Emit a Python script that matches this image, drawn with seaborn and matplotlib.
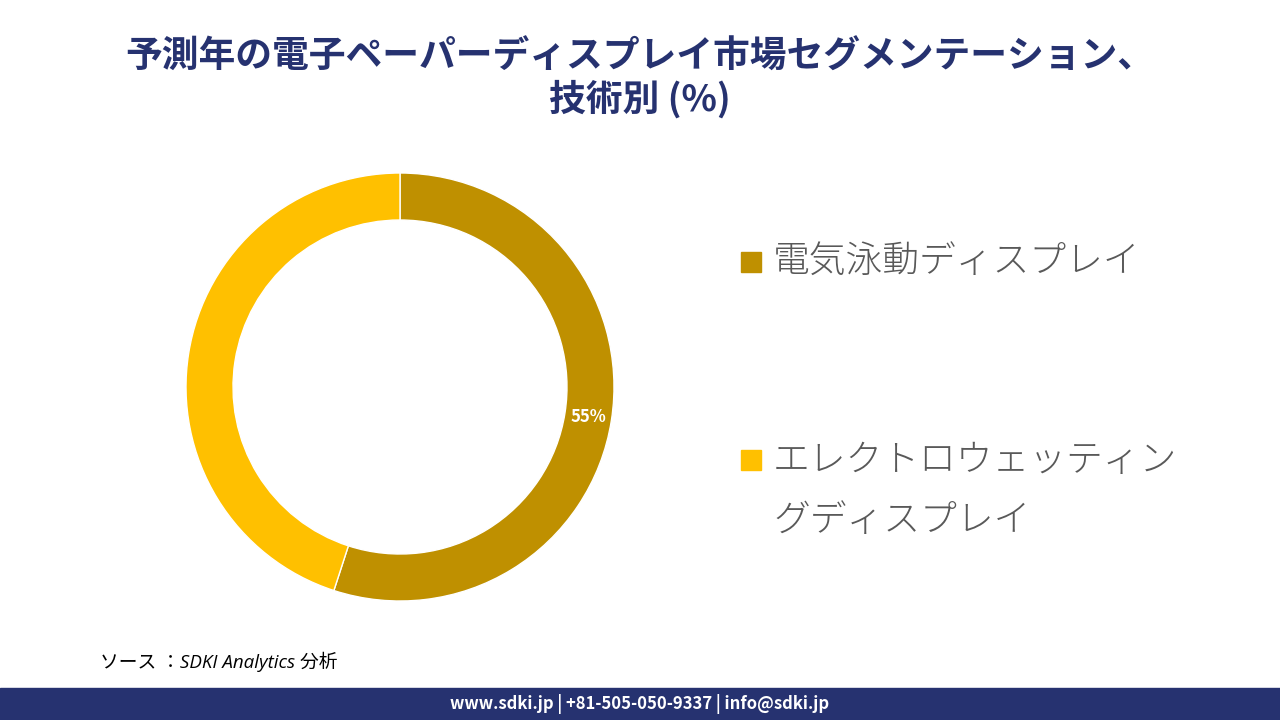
import matplotlib
matplotlib.use("Agg")
import matplotlib.pyplot as plt
import seaborn as sns
from matplotlib.patches import Rectangle

categories = ["電気泳動ディスプレイ", "エレクトロウェッティン\nグディスプレイ"]
shares = [55, 45]
colors = ["#BF9000", "#FFC000"]
title = "予測年の電子ペーパーディスプレイ市場セグメンテーション、\n技術別 (%)"
footer = "www.sdki.jp | +81-505-050-9337 | info@sdki.jp"

sns.set_theme(style="white")
plt.rcParams["font.family"] = ["Noto Sans CJK JP", "DejaVu Sans"]

fig = plt.figure(figsize=(12.8, 7.2), dpi=100)
W, H = 1280, 720

# donut
cx, cy, r = 400, 387, 214
ax = fig.add_axes([(cx - r) / W, (H - cy - r) / H, 2 * r / W, 2 * r / H])
wedges, texts, autotexts = ax.pie(
    shares, colors=colors, startangle=90, counterclock=False,
    radius=1.0, wedgeprops=dict(width=47 / r, edgecolor="white", linewidth=1),
    autopct=lambda p: f"{p:.0f}%" if p > 50 else "", pctdistance=0.89,
    textprops=dict(color="white", fontsize=12, fontweight="bold"))
ax.set_xlim(-1, 1)
ax.set_ylim(-1, 1)
ax.set_aspect("equal")
ax.axis("off")

# title
fig.text(0.5, 1 - 79 / H, title, ha="center", va="center", fontsize=26.5,
         fontweight="bold", color="#263270", linespacing=1.15)

# legend
ys = [262, 460]
for cat, col, y in zip(categories, colors, ys):
    fig.patches.append(Rectangle((741 / W, 1 - (y + 10) / H), 20 / W, 20 / H,
                                 transform=fig.transFigure, color=col))
    fig.text(773 / W, 1 - y / H, cat, ha="left", va="top" if "\n" in cat else "center",
             fontsize=26.5, fontweight="light", color="#595959",
             linespacing=1.7)
# fix vertical anchor of wrapped label
fig.texts[-1].set_y(1 - 442 / H)

# source
fig.text(100 / W, 1 - 662 / H, "ソース ：SDKI Analytics 分析", ha="left", va="center",
         fontsize=13.5, style="italic", color="black",
         family=["Open Sans", "Noto Sans CJK JP"])

# footer band
fig.patches.append(Rectangle((0, 0), 1, 32 / H, transform=fig.transFigure,
                             color="#263270"))
fig.text(0.5, 16 / H, footer, ha="center", va="center", fontsize=12,
         fontweight="bold", color="white")

fig.savefig("out.png", dpi=100)
